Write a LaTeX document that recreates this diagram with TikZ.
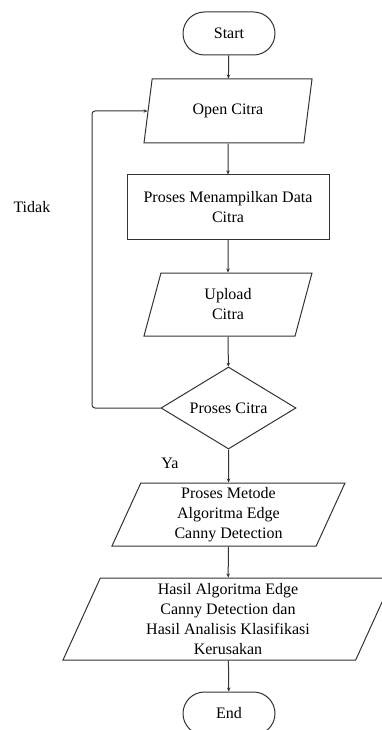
\documentclass[tikz,border=0pt]{standalone}
\usepackage{fontspec}
\setmainfont{Liberation Serif}
\usetikzlibrary{shapes.geometric,shapes.misc,arrows.meta}

\begin{document}
\begin{tikzpicture}[x=1pt,y=-1pt,
    line width=1pt,
    every node/.style={font=\fontsize{16}{20}\selectfont, text=black},
    terminal/.style={rounded rectangle, draw=black!80, minimum width=94pt, minimum height=43pt, inner sep=1pt},
    process/.style={rectangle, draw=black!80, minimum width=202pt, minimum height=64pt, align=center, inner sep=1pt},
    io/.style={trapezium, trapezium left angle=63, trapezium right angle=117, trapezium stretches body, draw=black!80, align=center, inner sep=1pt},
    decision/.style={diamond, draw=black!80, aspect=1.65, minimum width=135pt, minimum height=82pt, inner sep=0pt},
    flow/.style={draw=black!80, -{Stealth[length=4pt,width=3.5pt]}}
  ]
      \useasboundingbox (0,0) rectangle (382,730);
      \clip (0,0) rectangle (382,730);

      % Start and end
      \node[terminal] (start) at (229,33.5) {Start};
      \node[terminal] (end) at (229,713.5) {End};

      % Input
      \node[io, minimum width=168pt, minimum height=64pt] (open) at (228,111) {Open Citra};

      % Display data
      \node[process] (tampil) at (228,207) {Proses Menampilkan Data\\Citra};

      % Upload
      \node[io, minimum width=168pt, minimum height=63pt] (upload) at (228,304.5) {Upload\\Citra};

      % Decision
      \node[decision] (cek) at (228.5,408) {Proses Citra};

      % Canny method
      \node[io, minimum width=233pt, minimum height=63pt] (metode) at (228.5,514.5) {Proses Metode\\Algoritma Edge\\Canny Detection};

      % Result
      \node[io, minimum width=330pt, minimum height=82pt] (hasil) at (228,619) {Hasil Algoritma Edge\\Canny Detection dan\\Hasil Analisis Klasifikasi\\Kerusakan};

      % Labels
      \node[anchor=west, inner sep=0pt] (tidak) at (13,207) {Tidak};
      \node[inner sep=0pt] (ya) at (170,463) {Ya};

      % Main flow
      \draw[flow] (start) -- (open);
      \draw[flow] (open) -- (tampil);
      \draw[flow] (tampil) -- (upload);
      \draw[flow] (upload) -- (cek);
      \draw[flow] (cek) -- (metode);
      \draw[flow] (metode) -- (hasil);
      \draw[flow] (hasil) -- (end);

      % Back loop
      \coordinate (kiri) at (92,408);
      \draw[flow, rounded corners=3pt] (cek.west) -- (kiri) |- (open.west);

    \end{tikzpicture}
\end{document}
